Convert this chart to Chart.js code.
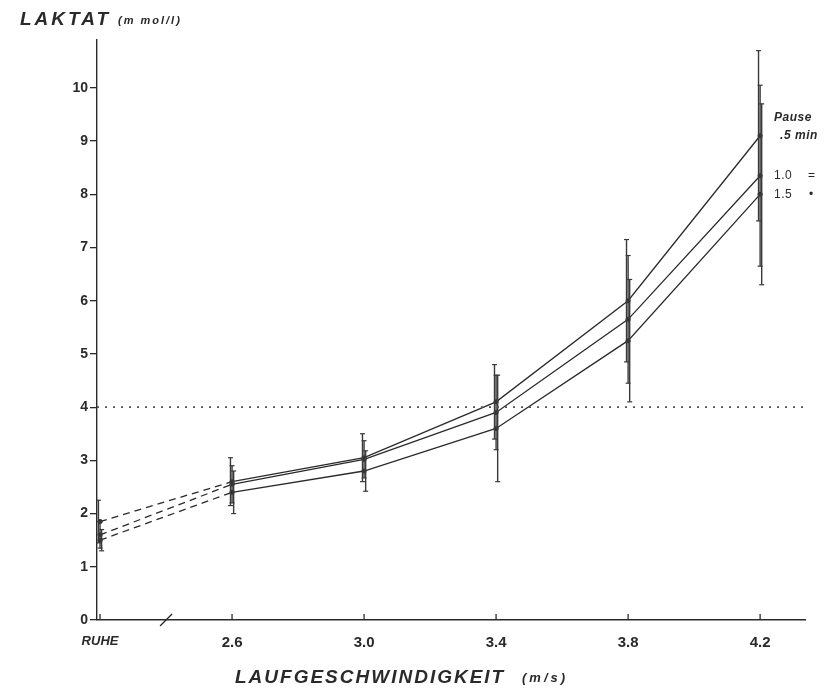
<!DOCTYPE html>
<html lang="de">
<head>
    <meta charset="UTF-8">
    <title>Laktat / Laufgeschwindigkeit</title>
    <script src="https://cdn.jsdelivr.net/npm/chart.js"></script>
    <style>
        body { margin: 0; background: #fff; }
        #wrap { width: 838px; height: 690px; }
    </style>
</head>
<body>
<div id="wrap"><canvas id="myChart" width="838" height="690"></canvas></div>
<script>
    // Kategorien der x-Achse (Ruhe + Laufgeschwindigkeit m/s)
    const categories = ['RUHE', '2.6', '3.0', '3.4', '3.8', '4.2'];
    const yTicks = [0, 1, 2, 3, 4, 5, 6, 7, 8, 9, 10];

    // Laktat-Mittelwerte (mmol/l) je Pausendauer
    const pause05 = [1.85, 2.6, 3.05, 4.1, 6.0, 9.1];
    const pause10 = [1.6, 2.55, 3.02, 3.9, 5.65, 8.35];
    const pause15 = [1.5, 2.4, 2.8, 3.6, 5.25, 8.0];

    // Standardabweichungen
    const sd05 = [0.4, 0.45, 0.45, 0.7, 1.15, 1.6];
    const sd10 = [0.25, 0.35, 0.35, 0.7, 1.2, 1.7];
    const sd15 = [0.2, 0.4, 0.38, 1.0, 1.15, 1.7];

    const seriesNames = ['.5 min', '1.0', '1.5'];
    const thresholdValue = 4;

    const X_MIN = -0.023, X_MAX = 5.34;
    const INK = '#2a2a2a';

    function lineData(values) {
        return values.map((v, i) => ({ x: i, y: v }));
    }

    // Fehlerbalken als senkrechte Linienstücke, getrennt durch null
    function errorData(values, sds, off) {
        const pts = [];
        values.forEach((v, i) => {
            pts.push({ x: i + off, y: v - sds[i] });
            pts.push({ x: i + off, y: v + sds[i] });
            pts.push({ x: i + off, y: null });
        });
        return pts;
    }

    function meanSet(label, values) {
        return {
            label: label,
            data: lineData(values),
            borderColor: INK,
            backgroundColor: INK,
            borderWidth: 1.3,
            pointRadius: 2.5,
            pointBorderWidth: 0,
            tension: 0,
            segment: {
                borderDash: ctx => ctx.p0DataIndex === 0 ? [7, 5] : undefined
            }
        };
    }

    function errSet(label, values, sds, off) {
        return {
            label: label + ' SD',
            data: errorData(values, sds, off),
            borderColor: '#3a3a3a',
            backgroundColor: '#3a3a3a',
            borderWidth: 1.4,
            pointStyle: 'line',
            pointRadius: 2.5,
            pointBorderWidth: 1.2,
            spanGaps: false
        };
    }

    const datasets = [
        {
            label: 'Schwelle',
            data: [{ x: X_MIN, y: thresholdValue }, { x: X_MAX, y: thresholdValue }],
            borderColor: '#555',
            borderWidth: 1.6,
            borderDash: [2, 6],
            pointRadius: 0
        },
        errSet(seriesNames[0], pause05, sd05, -0.012),
        errSet(seriesNames[1], pause10, sd10, 0),
        errSet(seriesNames[2], pause15, sd15, 0.012),
        meanSet(seriesNames[0], pause05),
        meanSet(seriesNames[1], pause10),
        meanSet(seriesNames[2], pause15)
    ];

    const decorations = {
        id: 'decorations',
        afterDraw(chart) {
            const ctx = chart.ctx;
            const xs = chart.scales.x, ys = chart.scales.y;
            const bottom = chart.chartArea.bottom;
            ctx.save();
            ctx.strokeStyle = INK;
            ctx.fillStyle = INK;
            ctx.lineWidth = 1.3;

            // Striche der x-Achse nach oben
            categories.forEach((c, i) => {
                const px = xs.getPixelForValue(i);
                ctx.beginPath();
                ctx.moveTo(px, bottom);
                ctx.lineTo(px, bottom - 6);
                ctx.stroke();
            });

            // Achsenbruch zwischen RUHE und 2.6
            const bx = xs.getPixelForValue(0.5);
            ctx.beginPath();
            ctx.moveTo(bx - 6, bottom + 6);
            ctx.lineTo(bx + 6, bottom - 6);
            ctx.stroke();

            // y-Titel
            ctx.textBaseline = 'alphabetic';
            ctx.textAlign = 'left';
            ctx.font = 'italic bold 19px "Liberation Sans", Arial, sans-serif';
            ctx.letterSpacing = '3px';
            ctx.fillText('LAKTAT', 20, 25);
            ctx.letterSpacing = '2px';
            ctx.font = 'italic bold 11px "Liberation Sans", Arial, sans-serif';
            ctx.fillText('(m mol/l)', 118, 24);

            // x-Titel
            ctx.font = 'italic bold 19px "Liberation Sans", Arial, sans-serif';
            ctx.letterSpacing = '2px';
            ctx.fillText('LAUFGESCHWINDIGKEIT', 235, 683);
            ctx.font = 'italic bold 13px "Liberation Sans", Arial, sans-serif';
            ctx.letterSpacing = '3px';
            ctx.fillText('(m/s)', 522, 682);

            // Beschriftung der Kurven rechts
            const lx = xs.getPixelForValue(5) + 14;
            ctx.letterSpacing = '0.5px';
            ctx.textBaseline = 'middle';
            ctx.font = 'italic bold 12px "Liberation Sans", Arial, sans-serif';
            ctx.fillText('Pause', lx, ys.getPixelForValue(pause05[5]) - 18);
            ctx.fillText('.5 min', lx + 6, ys.getPixelForValue(pause05[5]));
            ctx.font = '12px "Liberation Sans", Arial, sans-serif';
            ctx.fillText('1.0', lx, ys.getPixelForValue(pause10[5]));
            ctx.fillText('=', lx + 34, ys.getPixelForValue(pause10[5]));
            ctx.fillText('1.5', lx, ys.getPixelForValue(pause15[5]));
            ctx.fillText('\u2022', lx + 35, ys.getPixelForValue(pause15[5]));
            ctx.restore();
        }
    };

    new Chart(document.getElementById('myChart').getContext('2d'), {
        type: 'line',
        data: { datasets: datasets },
        options: {
            responsive: false,
            animation: false,
            layout: { padding: { top: 40, right: 33, left: 0, bottom: 0 } },
            plugins: { legend: { display: false }, tooltip: { enabled: false } },
            scales: {
                x: {
                    type: 'linear',
                    min: X_MIN,
                    max: X_MAX,
                    afterBuildTicks: s => { s.ticks = categories.map((c, i) => ({ value: i })); },
                    afterFit: s => { s.height = 70; },
                    grid: { display: false },
                    border: { display: true, color: INK, width: 1.4 },
                    ticks: {
                        padding: 6,
                        maxRotation: 0,
                        color: INK,
                        callback: v => categories[v] ?? '',
                        font: c => c.index === 0
                            ? { family: '"Liberation Sans", Arial', size: 13, weight: 'bold', style: 'italic' }
                            : { family: '"Liberation Sans", Arial', size: 15, weight: 'bold' }
                    }
                },
                y: {
                    type: 'linear',
                    min: 0,
                    max: 10.9,
                    afterBuildTicks: s => { s.ticks = yTicks.map(v => ({ value: v })); },
                    afterFit: s => { s.width = 97; },
                    grid: { drawOnChartArea: false, drawTicks: true, tickLength: 7, color: INK, lineWidth: 1.3 },
                    border: { display: true, color: INK, width: 1.4 },
                    ticks: {
                        padding: 2,
                        color: INK,
                        font: { family: '"Liberation Sans", Arial', size: 14, weight: 'bold' }
                    }
                }
            }
        },
        plugins: [decorations]
    });
</script>
</body>
</html>
